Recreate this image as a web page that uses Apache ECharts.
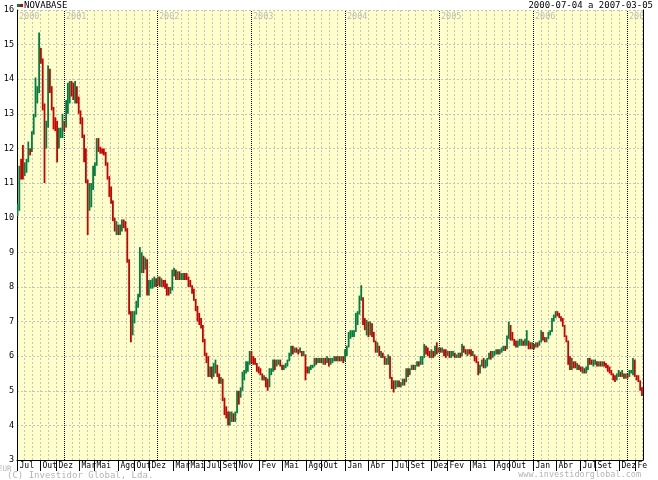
<!DOCTYPE html>
<html><head><meta charset="utf-8">
<script src="https://cdn.jsdelivr.net/npm/echarts@6/dist/echarts.min.js"></script>
<style>html,body{margin:0;padding:0;background:#fff}#c{width:658px;height:480px}</style>
</head><body><div id="c"></div>
<script>
// ---- data (weekly bars) ----
const startDate = '2000-07-04';
const endDate = '2007-03-05';
const firstOpen = 10.1;
const weekLows = [
10.05,10.2,11.1,11.1,11.2,11.3,11.6,11.8,11.9,12.4,
12.9,13.3,13.6,14.45,13.1,11.0,12.0,12.6,13.6,13.1,
12.55,12.5,11.6,12.0,12.3,12.3,12.5,12.6,13.0,13.3,
13.5,13.4,13.3,13.3,13.0,12.7,12.3,11.6,11.0,9.5,
10.2,10.3,10.8,11.2,11.5,11.9,11.85,11.85,11.8,11.5,
11.1,10.6,10.4,9.9,9.6,9.5,9.5,9.5,9.6,9.7,
9.6,8.7,7.2,6.4,6.6,6.95,7.2,7.4,7.7,8.4,
8.4,8.5,7.75,7.75,7.95,7.95,8.0,8.0,8.05,8.0,
8.0,8.0,7.95,7.75,7.75,7.8,7.9,8.3,8.2,8.2,
8.2,8.2,8.2,8.2,8.2,8.0,8.0,7.8,7.6,7.3,
7.0,6.9,6.8,6.4,6.0,5.8,5.4,5.4,5.35,5.4,
5.5,5.4,5.2,5.2,4.7,4.3,4.2,4.0,4.0,4.1,
4.1,4.1,4.35,4.6,4.8,5.0,5.3,5.5,5.55,5.75,
5.8,5.75,5.75,5.55,5.5,5.45,5.3,5.3,5.1,5.0,
5.1,5.45,5.55,5.6,5.7,5.75,5.7,5.6,5.6,5.65,
5.7,5.85,6.0,6.05,6.1,6.1,6.05,6.1,6.0,6.0,
5.3,5.5,5.5,5.6,5.65,5.7,5.75,5.8,5.8,5.8,
5.75,5.75,5.8,5.7,5.75,5.8,5.85,5.85,5.85,5.85,
5.85,5.8,5.85,6.0,6.25,6.5,6.55,6.55,6.7,6.9,
7.2,7.6,6.9,6.75,6.6,6.55,6.6,6.55,6.4,6.1,
6.1,6.0,5.95,5.95,5.75,5.75,5.75,5.35,5.05,4.95,
5.05,5.1,5.1,5.1,5.15,5.15,5.25,5.4,5.45,5.6,
5.6,5.6,5.7,5.7,5.75,5.75,5.95,6.05,6.0,5.95,
5.95,5.95,6.0,6.05,6.1,6.1,6.1,6.0,5.95,6.0,
5.95,5.95,6.0,5.95,5.95,5.95,5.95,6.0,6.1,6.05,
6.0,6.05,6.0,6.0,5.85,5.8,5.45,5.5,5.7,5.65,
5.65,5.7,5.9,5.9,5.95,6.0,6.05,6.05,6.05,6.1,
6.15,6.15,6.2,6.5,6.45,6.45,6.3,6.25,6.25,6.3,
6.3,6.3,6.3,6.3,6.2,6.2,6.2,6.2,6.25,6.25,
6.3,6.4,6.45,6.4,6.4,6.5,6.6,6.7,7.0,7.1,
7.15,7.1,7.0,6.85,6.55,6.4,5.75,5.6,5.6,5.65,
5.65,5.6,5.6,5.55,5.5,5.5,5.5,5.6,5.75,5.75,
5.7,5.75,5.7,5.7,5.7,5.7,5.7,5.65,5.55,5.5,
5.45,5.3,5.25,5.3,5.4,5.4,5.4,5.35,5.35,5.35,
5.4,5.5,5.45,5.4,5.3,5.25,5.0,4.85];
const weekHighs = [
10.4,11.5,11.7,12.1,11.6,11.7,12.2,12.0,12.5,13.0,
14.05,13.8,15.35,14.9,14.6,13.3,12.8,14.4,14.3,13.8,
13.2,12.9,12.8,12.6,12.6,13.0,12.8,13.4,13.9,13.95,
13.95,13.9,13.95,13.8,13.5,13.1,12.9,12.4,12.0,11.1,
11.0,11.0,11.5,11.6,12.3,12.3,12.05,12.0,12.0,11.9,
11.6,11.2,10.9,10.5,10.0,9.9,9.8,9.8,9.95,9.95,
9.9,9.7,8.8,7.3,7.3,7.3,7.6,7.8,9.15,9.0,
8.9,8.85,8.8,8.2,8.2,8.25,8.3,8.25,8.3,8.3,
8.25,8.2,8.2,8.1,8.0,8.0,8.5,8.55,8.5,8.45,
8.45,8.4,8.4,8.4,8.4,8.3,8.2,8.05,7.95,7.65,
7.45,7.25,7.1,6.9,6.5,6.1,6.0,5.7,5.7,5.8,
5.9,5.75,5.5,5.4,5.35,4.8,4.55,4.4,4.4,4.4,
4.35,4.4,5.0,5.0,5.1,5.55,5.6,5.85,5.85,6.15,
6.15,6.0,5.95,5.8,5.7,5.65,5.5,5.45,5.4,5.35,
5.65,5.65,5.9,5.9,5.9,5.9,5.9,5.75,5.75,5.8,
5.9,6.1,6.3,6.3,6.25,6.25,6.2,6.25,6.15,6.15,
6.05,5.7,5.7,5.75,5.75,5.95,5.95,5.95,5.95,5.95,
5.95,5.95,6.0,5.95,5.95,5.95,6.0,6.0,6.0,6.0,
6.0,6.0,6.2,6.3,6.7,6.75,6.75,6.75,7.25,7.3,
7.75,8.05,7.7,7.1,7.05,7.0,7.0,6.95,6.7,6.45,
6.4,6.3,6.15,6.1,6.0,5.95,6.05,6.0,5.4,5.3,
5.3,5.3,5.3,5.25,5.35,5.35,5.65,5.65,5.65,5.75,
5.75,5.75,5.85,5.85,6.0,6.0,6.35,6.3,6.25,6.15,
6.2,6.15,6.3,6.4,6.25,6.25,6.25,6.2,6.2,6.15,
6.15,6.15,6.15,6.1,6.05,6.1,6.1,6.35,6.3,6.2,
6.2,6.2,6.2,6.15,6.05,6.0,5.85,5.75,5.9,5.95,
5.9,5.95,6.1,6.15,6.15,6.15,6.2,6.2,6.2,6.25,
6.3,6.3,6.6,7.0,6.9,6.7,6.5,6.45,6.45,6.5,
6.5,6.45,6.5,6.75,6.45,6.4,6.4,6.35,6.4,6.4,
6.45,6.75,6.7,6.55,6.55,6.7,6.75,7.1,7.2,7.3,
7.3,7.25,7.15,7.1,6.9,6.6,6.45,6.0,5.95,5.85,
5.85,5.8,5.75,5.7,5.7,5.65,5.7,5.95,5.95,5.9,
5.9,5.9,5.85,5.85,5.85,5.85,5.85,5.8,5.75,5.7,
5.6,5.5,5.45,5.5,5.6,5.55,5.6,5.5,5.5,5.5,
5.6,5.6,5.95,5.9,5.45,5.45,5.3,5.1];
const weekCloses = [
10.3,11.4,11.3,11.2,11.5,11.6,12.1,11.9,12.4,12.9,
13.5,13.6,14.9,14.6,13.3,12.2,12.6,14.2,13.8,13.2,
12.7,12.6,12.0,12.5,12.5,12.8,12.6,13.3,13.5,13.8,
13.7,13.6,13.8,13.4,13.1,12.8,12.4,11.9,11.1,10.2,
10.6,10.9,11.3,11.5,12.2,12.0,11.95,11.9,11.85,11.6,
11.2,10.8,10.5,10.0,9.7,9.8,9.6,9.7,9.9,9.8,
9.7,8.8,7.3,6.6,7.1,7.2,7.5,7.7,8.7,8.8,
8.6,8.7,7.9,8.0,8.1,8.2,8.2,8.1,8.2,8.1,
8.15,8.1,8.0,7.9,7.8,7.9,8.4,8.4,8.3,8.35,
8.3,8.3,8.35,8.3,8.25,8.1,8.05,7.9,7.65,7.4,
7.1,7.0,6.9,6.5,6.1,5.9,5.5,5.6,5.5,5.7,
5.7,5.5,5.3,5.3,4.8,4.4,4.3,4.1,4.2,4.3,
4.2,4.35,4.9,4.8,5.0,5.45,5.5,5.7,5.8,6.0,
5.9,5.85,5.8,5.6,5.55,5.5,5.35,5.35,5.2,5.1,
5.55,5.6,5.8,5.75,5.8,5.85,5.75,5.65,5.7,5.75,
5.85,6.05,6.2,6.15,6.2,6.15,6.1,6.15,6.05,6.05,
5.6,5.55,5.65,5.7,5.7,5.9,5.85,5.85,5.9,5.85,
5.9,5.85,5.9,5.8,5.85,5.9,5.95,5.9,5.95,5.9,
5.95,5.9,6.1,6.25,6.6,6.6,6.65,6.7,7.1,7.2,
7.7,7.7,7.0,6.9,6.9,6.7,6.95,6.7,6.45,6.2,
6.3,6.05,6.1,6.0,5.8,5.85,5.95,5.4,5.15,5.1,
5.2,5.2,5.15,5.2,5.3,5.25,5.55,5.5,5.6,5.7,
5.65,5.7,5.8,5.75,5.9,5.95,6.3,6.15,6.1,6.05,
6.1,6.0,6.2,6.15,6.2,6.15,6.2,6.1,6.05,6.1,
6.0,6.05,6.1,6.0,6.0,6.05,6.0,6.3,6.15,6.1,
6.15,6.1,6.05,6.05,5.9,5.85,5.6,5.7,5.8,5.75,
5.85,5.9,6.05,6.0,6.1,6.1,6.15,6.1,6.15,6.2,
6.25,6.2,6.5,6.9,6.55,6.5,6.4,6.3,6.35,6.4,
6.4,6.35,6.4,6.45,6.3,6.25,6.35,6.3,6.35,6.3,
6.4,6.7,6.5,6.45,6.5,6.65,6.7,7.0,7.15,7.25,
7.2,7.15,7.05,6.9,6.6,6.45,5.9,5.7,5.8,5.75,
5.7,5.7,5.65,5.6,5.6,5.55,5.6,5.9,5.85,5.8,
5.8,5.85,5.75,5.8,5.75,5.8,5.75,5.7,5.6,5.55,
5.5,5.35,5.3,5.45,5.5,5.45,5.5,5.4,5.45,5.4,
5.55,5.55,5.9,5.45,5.35,5.3,5.1,4.9];
const monthLabelDates = ['2000-07-04','2000-10-01','2000-12-01','2001-03-01','2001-05-01','2001-08-01','2001-10-01','2001-12-01',
 '2002-03-01','2002-05-01','2002-07-01','2002-09-01','2002-11-01','2003-02-01','2003-05-01','2003-08-01','2003-10-01',
 '2004-01-01','2004-04-01','2004-07-01','2004-09-01','2004-12-01','2005-02-01','2005-05-01','2005-08-01','2005-10-01',
 '2006-01-01','2006-04-01','2006-07-01','2006-09-01','2006-12-01','2007-02-01'];
const monthLabelTexts = ['Jul','Out','Dez','Mar','Mai','Ago','Out','Dez','Mar','Mai','Jul','Set','Nov','Fev','Mai','Ago','Out',
 'Jan','Abr','Jul','Set','Dez','Fev','Mai','Ago','Out','Jan','Abr','Jul','Set','Dez','Fe'];
const yearLabelDates = ['2000-07-04','2001-01-01','2002-01-01','2003-01-01','2004-01-01','2005-01-01','2006-01-01','2007-01-01'];
const yearLabelTexts = ['2000','2001','2002','2003','2004','2005','2006','2007'];
const yMin = 3, yMax = 16;

// ---- build ----
const DAY = 86400000;
const ts = s => Date.UTC(+s.slice(0,4), +s.slice(5,7)-1, +s.slice(8,10));
const t0 = ts(startDate), t1 = ts(endDate);
const bars = weekCloses.map((c, i) => [t0 + (i*7+2)*DAY, i === 0 ? firstOpen : weekCloses[i-1], c, weekLows[i], weekHighs[i]]);
const monthGrid = [];
for (let y = 2000, m = 7; ; ) {
  m++; if (m > 12) { m = 1; y++; }
  const t = Date.UTC(y, m-1, 1); if (t >= t1) break;
  monthGrid.push([t, new Date(t).getUTCMonth() === 0 ? 1 : 0]);
}
const monthLabelData = monthLabelDates.map(d => [ts(d), yMin]);
const yearLabelData = yearLabelDates.map(d => [ts(d), yMax]);

const FONT = '"DejaVu Sans Mono", monospace';
const GREEN = '#008040', RED = '#cc0000';

const chart = echarts.init(document.getElementById('c'), null, {renderer: 'canvas'});
chart.setOption({
  animation: false,
  backgroundColor: '#ffffff',
  grid: {left: 17, right: 15, top: 10, bottom: 20, show: true, backgroundColor: '#ffffcc', borderWidth: 0},
  xAxis: {type: 'time', min: t0, max: t1, axisLine: {show: true, lineStyle: {color: '#000', width: 1}},
    axisTick: {show: false}, axisLabel: {show: false}, splitLine: {show: false}},
  yAxis: [{type: 'value', min: yMin, max: yMax, interval: 1,
    axisLine: {show: true, lineStyle: {color: '#000', width: 1}}, axisTick: {show: false},
    axisLabel: {color: '#000', fontFamily: FONT, fontSize: 8.5, margin: 3},
    splitLine: {show: true, lineStyle: {color: '#c4c4c4', type: [2, 2], width: 1}}},
    {type: 'value', min: yMin, max: yMax, position: 'right', axisLine: {show: true, lineStyle: {color: '#000'}},
    axisTick: {show: false}, axisLabel: {show: false}, splitLine: {show: false}}],
  series: [
    {type: 'custom', data: monthGrid, z: 1, silent: true, encode: {x: 0},
     renderItem: (p, api) => {
       const a = api.coord([api.value(0), yMin]), b = api.coord([api.value(0), yMax]);
       const yr = api.value(1) === 1;
       return {type: 'line', shape: {x1: Math.round(a[0]) + 0.5, y1: a[1], x2: Math.round(a[0]) + 0.5, y2: b[1]},
         style: {stroke: yr ? '#000' : '#c4c4c4', lineWidth: 1, lineDash: yr ? [1, 1] : [2, 2]}};
     }},
    {type: 'custom', data: yearLabelData, z: 2, silent: true, clip: true, encode: {x: 0, y: 1},
     renderItem: (p, api) => {
       const a = api.coord([api.value(0), yMax]);
       return {type: 'text', x: Math.round(a[0]) + 2, y: a[1] + 2,
         style: {text: yearLabelTexts[p.dataIndex], fill: '#bcbcbc', font: '8.5px ' + FONT, textVerticalAlign: 'top'}};
     }},
    {type: 'custom', data: bars, z: 3, silent: true, clip: true, encode: {x: 0, y: [3, 4]},
     renderItem: (p, api) => {
       const x = api.value(0);
       const lo = api.coord([x, api.value(3)]), hi = api.coord([x, api.value(4)]);
       const w = Math.max(1.5, api.size([7 * DAY, 0])[0]);
       const up = api.value(2) >= api.value(1);
       return {type: 'rect', shape: {x: lo[0] - w / 2, y: hi[1], width: w, height: Math.max(1, lo[1] - hi[1])},
         style: {fill: up ? GREEN : RED}};
     }},
    {type: 'custom', data: monthLabelData, z: 4, silent: true, clip: false, encode: {x: 0, y: 1},
     renderItem: (p, api) => {
       const a = api.coord([api.value(0), yMin]);
       const x = Math.round(a[0]) + 0.5;
       return {type: 'group', children: [
         {type: 'line', shape: {x1: x, y1: a[1], x2: x, y2: a[1] + 11}, style: {stroke: '#000', lineWidth: 1}},
         {type: 'text', x: x + 2, y: a[1] + 2, style: {text: monthLabelTexts[p.dataIndex], fill: '#000', font: '8px ' + FONT, textVerticalAlign: 'top'}}
       ]};
     }}
  ],
  graphic: [
    {type: 'rect', shape: {x: 17, y: 4, width: 3, height: 3}, style: {fill: GREEN}},
    {type: 'rect', shape: {x: 20, y: 4, width: 3, height: 3}, style: {fill: RED}},
    {type: 'text', x: 24, y: 1, style: {text: 'NOVABASE', fill: '#000', font: '9px ' + FONT}},
    {type: 'text', right: 5, top: 1, style: {text: '2000-07-04 a 2007-03-05', fill: '#000', font: '9px ' + FONT}},
    {type: 'text', left: 7, top: 471, style: {text: '(C) Investidor Global, Lda.', fill: '#b4b4b4', font: '9px ' + FONT}},
    {type: 'text', right: 17, top: 470, style: {text: 'www.investidorglobal.com', fill: '#b4b4b4', font: '8.5px ' + FONT}},
    {type: 'text', left: -2, top: 465, style: {text: 'EUR', fill: '#b4b4b4', font: '7.5px ' + FONT}}
  ]
});
</script></body></html>
